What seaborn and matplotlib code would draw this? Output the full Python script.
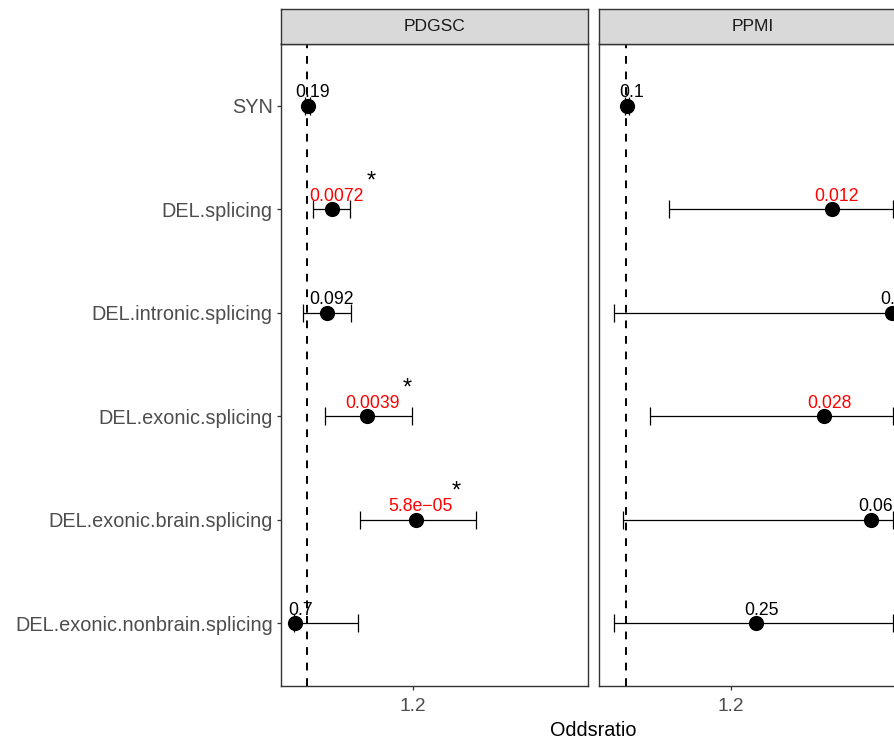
import numpy as np
import pandas as pd
import matplotlib
matplotlib.use("Agg")
import matplotlib.pyplot as plt
import seaborn as sns

# ---------------- data ----------------
categories = ["SYN", "DEL.splicing", "DEL.intronic.splicing", "DEL.exonic.splicing",
              "DEL.exonic.brain.splicing", "DEL.exonic.nonbrain.splicing"]
cohorts = ["PDGSC", "PPMI"]

pdgsc_or = [1.001, 1.046, 1.037, 1.114, 1.206, 0.977]
pdgsc_lo = [0.996, 1.011, 0.992, 1.034, 1.100, 0.975]
pdgsc_hi = [1.006, 1.081, 1.082, 1.199, 1.321, 1.097]
pdgsc_p = [0.19, 0.0072, 0.092, 0.0039, 5.8e-05, 0.7]
pdgsc_lab = ["0.19", "0.0072", "0.092", "0.0039", "5.8e\u221205", "0.7"]

ppmi_or = [1.002, 1.391, 1.506, 1.377, 1.466, 1.248]
ppmi_lo = [0.998, 1.083, 0.978, 1.047, 0.995, 0.978]
ppmi_hi = [1.006, 1.508, 1.560, 1.508, 1.508, 1.508]
ppmi_p = [0.1, 0.012, 0.08, 0.028, 0.06, 0.25]
ppmi_lab = ["0.1", "0.012", "0.08", "0.028", "0.06", "0.25"]

x_ticks = [1.2]
x_title = "Oddsratio"

rows = []
for coh, orv, lo, hi, p, lab in [
    ("PDGSC", pdgsc_or, pdgsc_lo, pdgsc_hi, pdgsc_p, pdgsc_lab),
    ("PPMI", ppmi_or, ppmi_lo, ppmi_hi, ppmi_p, ppmi_lab),
]:
    for i, cat in enumerate(categories):
        rows.append(dict(cohort=coh, category=cat, ypos=i + 1, OR=orv[i],
                         lo=lo[i], hi=hi[i], p=p[i], label=lab[i]))
df = pd.DataFrame(rows)

# ---------------- style ----------------
sns.set_theme(style="white")
plt.rcParams['font.family'] = ['Liberation Sans', 'DejaVu Sans']
plt.rcParams['axes.unicode_minus'] = True

W, H = 894, 740
fig = plt.figure(figsize=(W / 100, H / 100), dpi=100)
fig.patch.set_facecolor("white")


def px_rect(x0, y0, x1, y1):
    return [x0 / W, 1 - y1 / H, (x1 - x0) / W, (y1 - y0) / H]


panel_x = [(281, 587.5), (599.3, 905.8)]
top, bottom, strip_top = 43.5, 685.5, 9
border = "#333333"

for k, coh in enumerate(cohorts):
    x0, x1 = panel_x[k]
    ax = fig.add_axes(px_rect(x0, top, x1, bottom))
    sub = df[df.cohort == coh]

    ax.axvline(1, color="black", lw=1.4, ls=(0, (4, 4)), zorder=1)
    ax.errorbar(sub.OR, sub.ypos, xerr=[sub.OR - sub.lo, sub.hi - sub.OR],
                fmt="none", ecolor="black", elinewidth=0.9, capsize=6.8,
                capthick=0.9, zorder=2)
    sns.scatterplot(data=sub, x="OR", y="ypos", ax=ax, s=120, color="black",
                    edgecolor="black", linewidth=0, zorder=3, legend=False)

    for _, r in sub.iterrows():
        c = "#FF0000" if r.p < 0.05 else "black"
        ax.annotate(r.label, (r.OR, r.ypos), xytext=(3.6, 6.2),
                    textcoords="offset points", ha="center", va="baseline",
                    fontsize=12.7, color=c, zorder=4, annotation_clip=False)
        if r.p < 0.01:
            ax.annotate("*", (r.OR, r.ypos), xytext=(28.8, 15.8),
                        textcoords="offset points", ha="center", va="baseline",
                        fontsize=17, color="black", zorder=4, annotation_clip=False)

    ax.set_xlim(0.950, 1.532)
    ax.set_ylim(6.6, 0.4)
    ax.set_xticks(x_ticks)
    ax.set_xticklabels([str(t) for t in x_ticks])
    ax.set_xlabel("")
    ax.set_ylabel("")
    ax.set_facecolor("white")
    ax.grid(False)
    for sp in ax.spines.values():
        sp.set_color(border)
        sp.set_linewidth(1.0)
        sp.set_visible(True)
    ax.tick_params(axis="x", length=3, width=0.9, color=border,
                   labelcolor="#4D4D4D", labelsize=13.8, pad=6, bottom=True)
    if k == 0:
        ax.set_yticks(sub.ypos.tolist())
        ax.set_yticklabels(categories)
        ax.tick_params(axis="y", length=3, width=0.9, color=border,
                       labelcolor="#4D4D4D", labelsize=14.3, pad=3, left=True)
    else:
        ax.set_yticks([])
        ax.tick_params(axis="y", left=False, labelleft=False)

    sax = fig.add_axes(px_rect(x0, strip_top, x1, top))
    sax.set_facecolor("#D9D9D9")
    sax.set_xticks([])
    sax.set_yticks([])
    for sp in sax.spines.values():
        sp.set_color(border)
        sp.set_linewidth(1.0)
        sp.set_visible(True)
    sax.text(0.5, 0.5, coh, ha="center", va="center", fontsize=12.6,
             color="#1A1A1A", transform=sax.transAxes)

fig.text(593.5 / W, 1 - 730 / H, x_title, ha="center", va="center",
         fontsize=14.3, color="black")

fig.savefig("out.png", dpi=100, facecolor="white")
